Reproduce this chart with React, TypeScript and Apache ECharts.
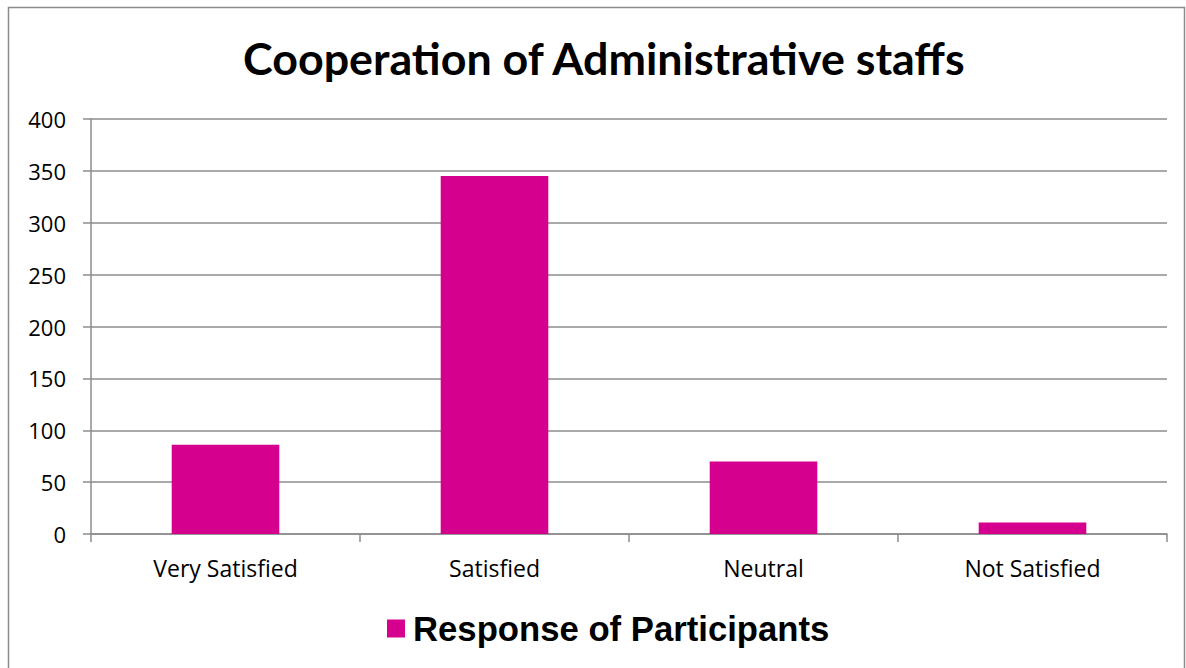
import React, { useEffect, useRef } from "react";
import * as echarts from "echarts";

const categories = ["Very Satisfied", "Satisfied", "Neutral", "Not Satisfied"];
const responses = [86, 345, 70, 11];
const seriesName = "Response of Participants";
const titleText = "Cooperation of Administrative staffs";

export default function App() {
  const ref = useRef<HTMLDivElement>(null);
  useEffect(() => {
    document.body.style.margin = "0";
    const chart = echarts.init(ref.current!, null, { renderer: "svg" });
    chart.setOption({
      animation: false,
      backgroundColor: "#ffffff",
      title: {
        text: titleText,
        left: 238,
        top: 30,
        textStyle: { fontFamily: "Lato", fontWeight: "bold", fontSize: 44.8, color: "#000" },
      },
      legend: {
        bottom: 22,
        left: 387,
        padding: 0,
        itemWidth: 18,
        itemHeight: 18,
        itemGap: 8,
        icon: "rect",
        textStyle: { fontFamily: "Liberation Sans", fontWeight: "bold", fontSize: 34.7, color: "#000", padding: [0, 0, 0, 3] },
        data: [seriesName],
      },
      graphic: [
        {
          type: "rect",
          shape: { x: 8.5, y: 7.5, width: 1176, height: 700 },
          style: { fill: "none", stroke: "#8c8c8c", lineWidth: 1.5 },
          silent: true,
        },
      ],
      grid: { left: 91, right: 19, top: 119, bottom: 134 },
      xAxis: {
        type: "category",
        data: categories,
        axisLine: { lineStyle: { color: "#8c8c8c", width: 1.5 } },
        axisTick: { show: true, length: 8, lineStyle: { color: "#8c8c8c", width: 1.5 } },
        axisLabel: { margin: 22, fontFamily: "Open Sans", fontSize: 23, color: "#000" },
      },
      yAxis: {
        type: "value",
        min: 0,
        max: 400,
        interval: 50,
        axisLine: { show: true, lineStyle: { color: "#8c8c8c", width: 1.5 } },
        axisTick: { show: true, length: 8, lineStyle: { color: "#8c8c8c", width: 1.5 } },
        axisLabel: { margin: 25, fontFamily: "Open Sans", fontSize: 22, color: "#000" },
        splitLine: { lineStyle: { color: "#8c8c8c", width: 1.5 } },
      },
      series: [
        {
          name: seriesName,
          type: "bar",
          data: responses,
          barWidth: "40%",
          itemStyle: { color: "#D6008F" },
        },
      ],
    });
    return () => chart.dispose();
  }, []);
  return <div ref={ref} style={{ position: "absolute", left: 0, top: 0, width: 1186, height: 668 }} />;
}
